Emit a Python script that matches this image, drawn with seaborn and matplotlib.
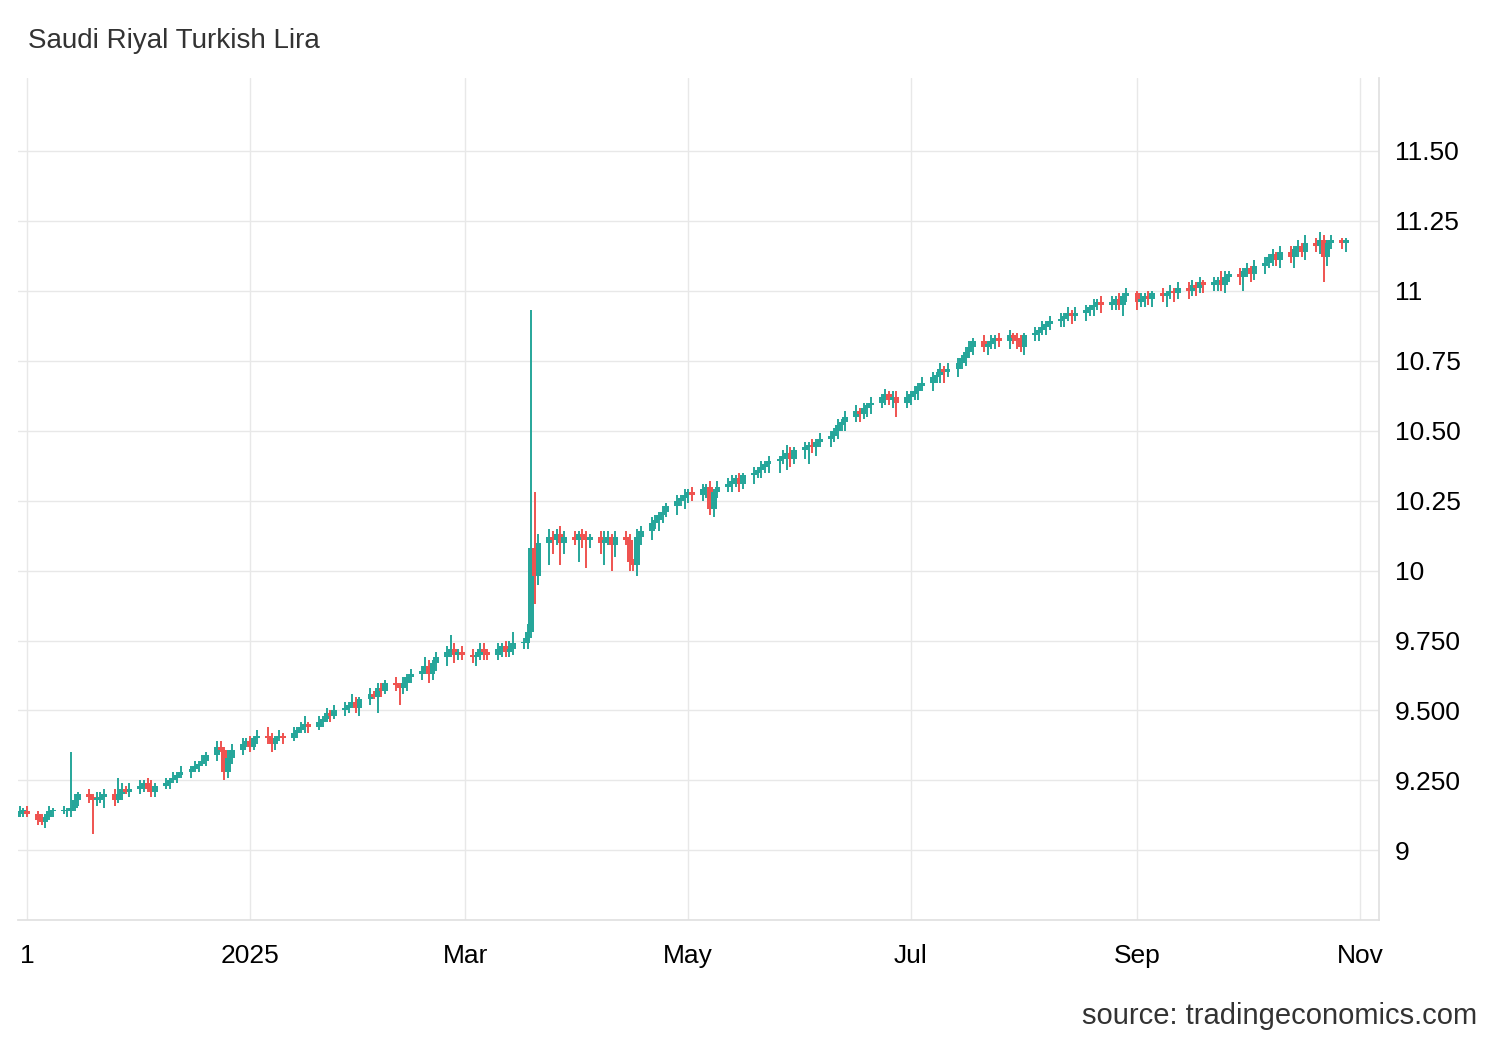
import matplotlib
matplotlib.use("Agg")
import matplotlib.pyplot as plt
import matplotlib.dates as mdates
import matplotlib.ticker as mticker
import seaborn as sns
import numpy as np
import pandas as pd

start_date = "2024-10-28"
close = [
 9.12, 9.13, 9.14, 9.14, 9.13,
 9.11, 9.10, 9.12, 9.14, 9.14,
 9.14, 9.14, 9.15, 9.18, 9.20,
 9.19, 9.18, 9.18, 9.19, 9.20,
 9.18, 9.20, 9.22, 9.21, 9.22,
 9.23, 9.24, 9.22, 9.21, 9.23,
 9.24, 9.25, 9.26, 9.27, 9.28,
 9.29, 9.30, 9.31, 9.32, 9.34,
 9.37, 9.36, 9.28, 9.33, 9.36,
 9.38, 9.39, 9.37, 9.40, 9.41,
 9.40, 9.38, 9.40, 9.41, 9.40,
 9.42, 9.43, 9.44, 9.45, 9.44,
 9.46, 9.47, 9.49, 9.48, 9.50,
 9.51, 9.52, 9.53, 9.51, 9.54,
 9.56, 9.55, 9.58, 9.57, 9.60,
 9.59, 9.58, 9.60, 9.62, 9.63,
 9.64, 9.66, 9.63, 9.67, 9.69,
 9.71, 9.72, 9.70, 9.71, 9.70,
 9.69, 9.70, 9.72, 9.71, 9.70,
 9.72, 9.73, 9.71, 9.72, 9.74,
 9.74, 9.78, 10.08, 9.98, 10.10,
 10.12, 10.11, 10.13, 10.10, 10.12,
 10.11, 10.13, 10.12, 10.11, 10.12,
 10.10, 10.11, 10.12, 10.09, 10.12,
 10.11, 10.03, 10.02, 10.12, 10.14,
 10.17, 10.18, 10.20, 10.21, 10.23,
 10.25, 10.26, 10.27, 10.28, 10.27,
 10.29, 10.30, 10.22, 10.28, 10.30,
 10.31, 10.32, 10.33, 10.31, 10.34,
 10.35, 10.36, 10.37, 10.38, 10.39,
 10.40, 10.41, 10.42, 10.40, 10.43,
 10.44, 10.45, 10.44, 10.46, 10.47,
 10.48, 10.50, 10.52, 10.53, 10.55,
 10.57, 10.56, 10.58, 10.59, 10.60,
 10.62, 10.63, 10.61, 10.62, 10.60,
 10.62, 10.63, 10.64, 10.66, 10.67,
 10.69, 10.70, 10.72, 10.71, 10.72,
 10.74, 10.76, 10.78, 10.80, 10.82,
 10.80, 10.81, 10.82, 10.83, 10.82,
 10.84, 10.83, 10.82, 10.80, 10.84,
 10.85, 10.86, 10.87, 10.88, 10.89,
 10.90, 10.91, 10.92, 10.91, 10.92,
 10.93, 10.94, 10.95, 10.96, 10.95,
 10.96, 10.97, 10.95, 10.98, 10.99,
 10.96, 10.97, 10.98, 10.97, 10.99,
 10.98, 10.99, 11.00, 10.99, 11.01,
 11.00, 11.02, 11.01, 11.03, 11.02,
 11.03, 11.04, 11.02, 11.05, 11.06,
 11.05, 11.07, 11.08, 11.06, 11.09,
 11.10, 11.12, 11.13, 11.11, 11.14,
 11.12, 11.15, 11.16, 11.14, 11.17,
 11.16, 11.18, 11.12, 11.17, 11.18,
 11.17, 11.18,
]
# upper / lower wick extensions (hundredths)
hi_ext = [
 2, 1, 2, 1, 2,
 1, 2, 1, 2, 1,
 2, 1, 20, 2, 1,
 2, 1, 3, 2, 2,
 2, 6, 2, 1, 2,
 2, 1, 2, 3, 1,
 2, 1, 2, 1, 2,
 1, 2, 1, 2, 1,
 2, 2, 1, 3, 2,
 2, 1, 2, 1, 2,
 3, 2, 1, 2, 1,
 2, 1, 2, 3, 1,
 2, 1, 2, 1, 2,
 2, 1, 3, 2, 1,
 2, 1, 2, 2, 1,
 2, 1, 2, 1, 2,
 2, 3, 2, 1, 2,
 2, 5, 2, 1, 2,
 2, 1, 2, 2, 1,
 2, 1, 2, 3, 4,
 2, 3, 85, 20, 3,
 3, 2, 2, 3, 2,
 2, 1, 2, 2, 1,
 2, 3, 2, 1, 2,
 2, 2, 1, 3, 2,
 2, 2, 1, 2, 1,
 2, 1, 2, 1, 2,
 2, 1, 2, 1, 2,
 2, 2, 1, 2, 1,
 2, 1, 2, 1, 2,
 1, 2, 3, 2, 1,
 2, 1, 2, 1, 2,
 2, 1, 2, 1, 2,
 2, 1, 2, 1, 2,
 1, 2, 1, 2, 2,
 2, 1, 2, 1, 2,
 2, 1, 2, 1, 2,
 2, 1, 2, 2, 1,
 2, 1, 2, 1, 2,
 2, 1, 2, 2, 1,
 2, 1, 2, 1, 2,
 2, 1, 2, 1, 2,
 2, 1, 2, 1, 2,
 2, 1, 2, 1, 2,
 1, 2, 1, 2, 1,
 2, 1, 2, 1, 2,
 2, 2, 1, 2, 1,
 2, 1, 3, 2, 1,
 2, 1, 2, 1, 2,
 2, 1, 2, 1, 2,
 2, 1, 2, 1, 3,
 2, 3, 2, 1, 2,
 1, 1,
]
lo_ext = [
 3, 2, 1, 2, 1,
 2, 1, 2, 1, 2,
 1, 2, 2, 1, 2,
 2, 12, 2, 1, 4,
 2, 1, 2, 1, 2,
 2, 2, 1, 2, 2,
 1, 2, 1, 2, 1,
 2, 1, 2, 1, 2,
 2, 1, 3, 2, 2,
 2, 1, 2, 1, 2,
 2, 3, 2, 1, 2,
 1, 2, 1, 2, 2,
 1, 2, 1, 2, 1,
 2, 2, 1, 2, 3,
 2, 1, 6, 2, 1,
 2, 6, 2, 3, 2,
 2, 1, 3, 2, 3,
 3, 2, 3, 2, 2,
 2, 3, 2, 3, 2,
 2, 3, 2, 2, 2,
 2, 2, 2, 10, 3,
 8, 5, 2, 8, 4,
 2, 8, 4, 10, 3,
 4, 8, 2, 9, 4,
 2, 3, 2, 4, 3,
 3, 2, 4, 3, 2,
 3, 2, 4, 3, 2,
 2, 3, 2, 3, 2,
 2, 3, 2, 3, 2,
 3, 2, 3, 2, 3,
 4, 2, 5, 3, 2,
 3, 6, 2, 3, 2,
 3, 2, 3, 2, 3,
 2, 3, 2, 3, 3,
 2, 3, 2, 3, 5,
 2, 3, 2, 3, 2,
 3, 2, 3, 4, 2,
 3, 2, 3, 2, 3,
 2, 3, 2, 3, 2,
 3, 2, 3, 2, 3,
 2, 3, 2, 3, 2,
 2, 3, 2, 3, 2,
 3, 2, 3, 2, 3,
 2, 3, 2, 4, 2,
 3, 2, 3, 2, 3,
 2, 4, 2, 3, 2,
 3, 2, 3, 2, 3,
 2, 3, 2, 3, 2,
 3, 5, 2, 3, 2,
 3, 2, 3, 2, 3,
 2, 4, 3, 2, 3,
 2, 3, 9, 3, 2,
 2, 3,
]
y_ticks = [9.0, 9.25, 9.5, 9.75, 10.0, 10.25, 10.5, 10.75, 11.0, 11.25, 11.5]
y_labels = ["9", "9.250", "9.500", "9.750", "10", "10.25", "10.50", "10.75", "11", "11.25", "11.50"]

sns.set_theme(style="whitegrid")
plt.rcParams['font.family'] = ['Liberation Sans', 'DejaVu Sans']

n = len(close)
dates = pd.bdate_range(start_date, periods=n)
c = np.array(close)
o = np.concatenate([[c[0] - 0.01], c[:-1]])
hi = np.maximum(o, c) + np.array(hi_ext[:n]) * 0.01
lo = np.minimum(o, c) - np.array(lo_ext[:n]) * 0.01
df = pd.DataFrame({"date": dates, "open": o, "close": c, "high": hi, "low": lo})
df = df.iloc[1:]
up = df["close"] >= df["open"]
green, red = "#26a69a", "#ef5350"
colors = np.where(up, green, red)

fig = plt.figure(figsize=(15, 10.4), dpi=100)
ax = fig.add_axes([0.012, 0.115, 0.907, 0.81])
x = mdates.date2num(df["date"])
ax.vlines(x, df["low"], df["high"], colors=colors, linewidth=1.4)
bottom = np.minimum(df["open"], df["close"])
height = np.maximum(np.abs(df["close"] - df["open"]), 0.006)
ax.bar(x, height, bottom=bottom, width=1.6, color=colors, linewidth=0)

ax.set_ylim(8.75, 11.76)
ax.set_xlim(mdates.date2num(pd.Timestamp("2024-10-29 12:00")), mdates.date2num(pd.Timestamp("2025-11-06")))
ax.yaxis.tick_right()
ax.set_yticks(y_ticks)
ax.yaxis.set_major_formatter(mticker.FixedFormatter(y_labels))
xt = pd.to_datetime(["2024-11-01", "2025-01-01", "2025-03-01", "2025-05-01", "2025-07-01", "2025-09-01", "2025-11-01"])
ax.set_xticks(mdates.date2num(xt))
ax.set_xticklabels(["1", "2025", "Mar", "May", "Jul", "Sep", "Nov"])
ax.tick_params(axis="both", labelsize=19, colors="black", length=0)
ax.tick_params(axis="x", pad=17)
ax.tick_params(axis="y", pad=12)
ax.grid(True, color="#e8e8e8", linewidth=1)
for s in ["left", "top"]:
    ax.spines[s].set_visible(False)
ax.spines["bottom"].set_color("#e0e0e0")
ax.spines["right"].set_color("#e0e0e0")
fig.text(0.019, 0.961, "Saudi Riyal Turkish Lira", fontsize=20, color="#333333", va="center")
fig.text(0.985, 0.023, "source: tradingeconomics.com", fontsize=21, color="#333333", ha="right", va="center")
fig.savefig("out.png", dpi=100, facecolor="white")
